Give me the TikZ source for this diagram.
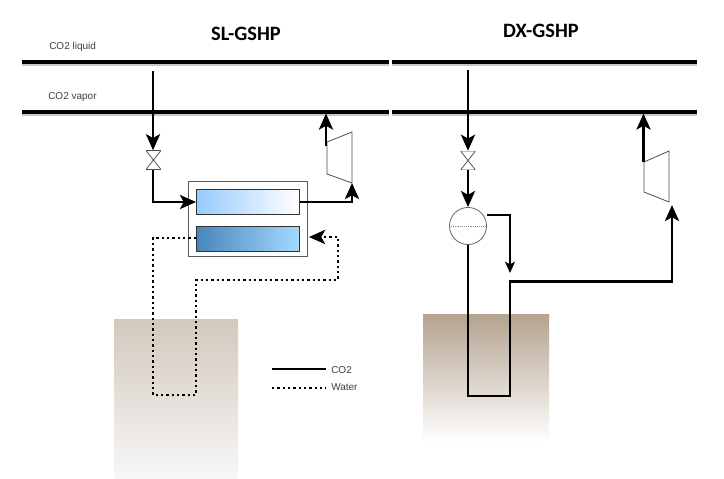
\documentclass[tikz,border=0pt]{standalone}
\usepackage{fontspec}
\setmainfont{Liberation Sans}
\newfontfamily\titlefont{Carlito}
\usetikzlibrary{arrows.meta,positioning}
\tikzset{
  x=0.75pt,y=-0.75pt,
  header/.style={line width=2.9pt,black},
  headshadow/.style={line width=3.2pt,black!22},
  pipe/.style={line width=2.15pt,black},
  water/.style={line width=2.15pt,black,dash pattern=on 1.7pt off 2.3pt},
  flow/.style={-{Stealth[length=12pt,width=10.5pt,inset=2.8pt]}},
  thinflow/.style={line width=1.15pt,black,-{Stealth[length=8.5pt,width=7.5pt,inset=2pt]}},
  label/.style={font=\fontsize{7.5}{8}\selectfont,text=black!75,inner sep=0pt,anchor=west},
  titletxt/.style={font=\titlefont\bfseries\fontsize{15.3}{17}\selectfont,inner sep=0pt},
  valve/.style={minimum width=11.2pt,minimum height=14.2pt,inner sep=0pt,
    path picture={\draw[line width=0.55pt,black!70]
      (path picture bounding box.north west)--(path picture bounding box.north east)
      --(path picture bounding box.south west)--(path picture bounding box.south east)--cycle;}},
  comp/.style={line width=0.6pt,black!70},
  ground/.style={inner sep=0pt,outer sep=0pt,anchor=north west},
  exch/.style={draw=black!80,line width=0.85pt,inner sep=0pt,minimum width=77pt,minimum height=18.6pt,anchor=north west},
}
\begin{document}
\begin{tikzpicture}
\useasboundingbox (0,0) rectangle (724,478);
\fill[white] (0,0) rectangle (724,478);
% ground
\node[ground,minimum width=93pt,minimum height=119.5pt,top color={rgb,255:red,211;green,200;blue,188},bottom color=white!97!black] (groundL) at (114,319) {};
\node[ground,minimum width=94.5pt,minimum height=96pt,top color={rgb,255:red,181;green,162;blue,143},bottom color=white] (groundR) at (423,314) {};
% headers
\draw[headshadow] (22,64)--(389,64);
\draw[headshadow] (392,64)--(697,64);
\draw[headshadow] (22,114)--(389,114);
\draw[headshadow] (392,114)--(697,114);
\coordinate (liqLa) at (22,62); \coordinate (liqLb) at (389,62);
\coordinate (liqRa) at (392,62); \coordinate (liqRb) at (697,62);
\coordinate (vapLa) at (22,112); \coordinate (vapLb) at (389,112);
\coordinate (vapRa) at (392,112); \coordinate (vapRb) at (697,112);
\draw[header] (liqLa)--(liqLb);
\draw[header] (liqRa)--(liqRb);
\draw[header] (vapLa)--(vapLb);
\draw[header] (vapRa)--(vapRb);
% titles and labels
\node[titletxt] (titleL) at (246,34) {SL-GSHP};
\node[titletxt] (titleR) at (541,31) {DX-GSHP};
\node[label] (liqtxt) at (49,47) {CO2 liquid};
\node[label] (vaptxt) at (48,97) {CO2 vapor};
% left side
\node[draw=black!65,line width=0.75pt,fill=white,inner sep=0pt,minimum width=89.2pt,minimum height=56.2pt,anchor=north west] (hx) at (188,181) {};
\node[exch,left color={rgb,255:red,150;green,203;blue,255},right color=white] (hxA) at (196,189) {};
\node[exch,left color={rgb,255:red,72;green,134;blue,186},right color={rgb,255:red,165;green,217;blue,255}] (hxB) at (196,226) {};
\node[valve] (valveL) at (153.5,160) {};
\coordinate (tapL) at (153,71);
\draw[pipe,flow] (tapL)--(valveL.north -| tapL);
\draw[pipe,flow] (valveL.south -| tapL)--(153,202)--(hxA.west |- 0,202);
\coordinate (cL1) at (327,142); \coordinate (cL2) at (352,132);
\coordinate (cL3) at (352,183); \coordinate (cL4) at (327,174);
\draw[comp] (cL1)--(cL2)--(cL3)--(cL4)--cycle;
\coordinate (outL) at (326,146); \coordinate (inL) at (326,113.5);
\draw[pipe,flow] (outL)--(inL);
\draw[pipe,flow] (hxA.east |- 0,202)--(352,202)--(cL3);
\coordinate (wEnd) at (309,237);
\draw[water,flow] (hxB.west |- 0,238)--(153,238)--(153,395)--(196,395)--(196,280)--(338,280)--(338,237)--(wEnd);
% right side
\node[valve] (valveR) at (468,160.5) {};
\node[circle,draw=black!60,line width=0.6pt,fill=white,inner sep=0pt,minimum size=27.8pt] (drum) at (468,226) {};
\draw[line width=0.4pt,black!45,densely dotted] (drum.west)--(drum.east);
\coordinate (tapR) at (468,70);
\draw[pipe,flow] (tapR)--(valveR.north);
\draw[pipe,flow] (valveR.south)--(drum.north);
\coordinate (cR1) at (644,162); \coordinate (cR2) at (669,151);
\coordinate (cR3) at (669,202); \coordinate (cR4) at (644,192);
\draw[comp] (cR1)--(cR2)--(cR3)--(cR4)--cycle;
\coordinate (outR) at (643.5,162); \coordinate (inR) at (643.5,113.5);
\draw[pipe,flow] (outR)--(inR);
\coordinate (sepOut) at (487,215); \coordinate (sepIn) at (510,273);
\draw[thinflow] (sepOut)--(510,215)--(sepIn);
\coordinate (compIn) at (672,205);
\draw[pipe,flow] (drum.south)--(468,396)--(510,396)--(510,281.5)--(672,281.5)--(compIn);
% legend
\coordinate (legA) at (272,369); \coordinate (legB) at (326,369);
\coordinate (legC) at (272,388); \coordinate (legD) at (326,388);
\draw[pipe] (legA)--(legB);
\draw[water] (legC)--(legD);
\node[label] (legco) at (331,370) {CO2};
\node[label] (legwa) at (331,387) {Water};
\end{tikzpicture}
\end{document}
